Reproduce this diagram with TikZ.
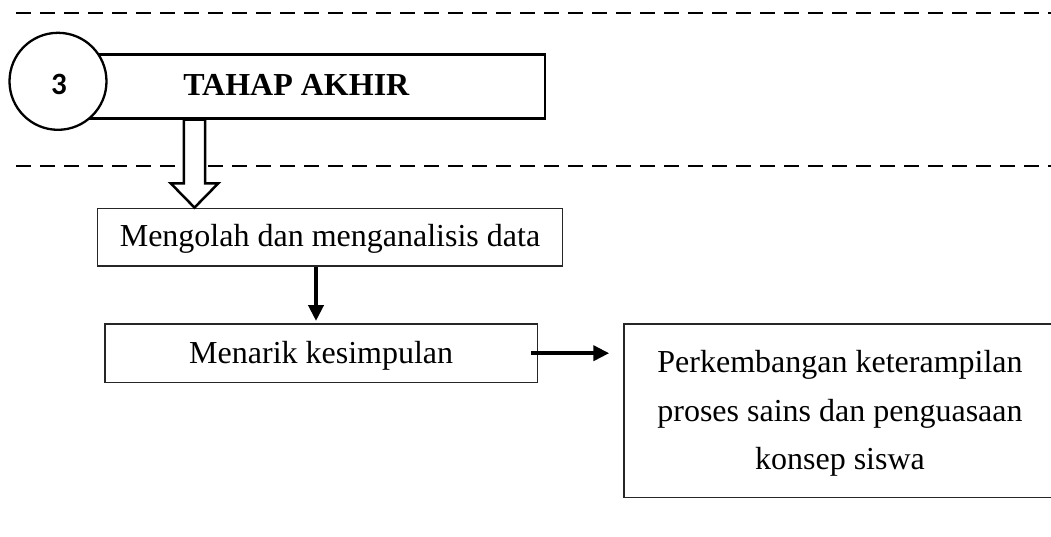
\documentclass[tikz,border=0pt]{standalone}
\usepackage{fontspec}
\setmainfont{Liberation Serif}
\newfontfamily\numfont{Carlito}
\usetikzlibrary{arrows.meta,calc}
\begin{document}
\begin{tikzpicture}[x=1pt,y=-1pt,
  thinbox/.style={draw=black!85,line width=1.5pt,rectangle,inner sep=0pt,font=\fontsize{32}{38}\selectfont},
  dashline/.style={line width=2pt,dash pattern=on 15pt off 9pt},
  arr/.style={line width=4pt,-{Triangle[length=16pt,width=15pt]}},
  hollow/.style={line width=2.5pt,fill=white,line join=miter}]
\useasboundingbox (0,0) rectangle (1051,536);
\clip (0,0) rectangle (1051,536);
% dashed separators
\coordinate (d1a) at (16,13.3);
\coordinate (d1b) at (1051,13.3);
\coordinate (d2a) at (16,165.7);
\coordinate (d2b) at (1051,165.7);
\draw[dashline] (d1a) -- (d1b);
\draw[dashline] (d2a) -- (d2b);
% header
\node[draw, line width=2.7pt, minimum width=497.4pt, minimum height=64pt, inner sep=0pt,
      text height=21.2pt, text depth=3.8pt,
      font=\fontsize{32}{38}\selectfont\bfseries] (tahap) at (296.3,86.3) {TAHAP AKHIR};
\node[draw, circle, fill=white, line width=2.3pt, minimum size=97pt, inner sep=0pt] (c3) at (58,81.3) {};
\node[inner sep=0pt, font=\numfont\fontsize{31}{34}\selectfont\bfseries] (n3) at (59,84) {3};
% boxes
\node[thinbox, minimum width=465.4pt, minimum height=57.7pt, text height=21.2pt, text depth=2.2pt]
      (olah) at (330,237.2) {Mengolah dan menganalisis data};
\node[thinbox, minimum width=432.3pt, minimum height=58.3pt, text height=21.2pt, text depth=1pt]
      (menarik) at (321.2,353.2) {Menarik kesimpulan};
\node[thinbox, minimum width=432pt, minimum height=173.3pt, align=center, text depth=1.5pt,
      font=\fontsize{32}{48.3}\selectfont] (hasil) at (840,410.7)
      {Perkembangan keterampilan\\proses sains dan penguasaan\\konsep siswa};
% hollow arrow
\coordinate (ax) at (194.5,0);
\coordinate (hs) at (tahap.south -| ax);
\coordinate (ht) at (olah.north -| ax);
\draw[hollow] ($(hs)+(-10.7,0)$) -- ($(ht)+(-10.7,-24.3)$) -- ($(ht)+(-23.8,-24.3)$) -- (ht)
   -- ($(ht)+(23.8,-24.3)$) -- ($(ht)+(10.7,-24.3)$) -- ($(hs)+(10.7,0)$) -- cycle;
% arrows
\coordinate (dx) at (316,0);
\draw[arr, shorten >=2.3pt] (olah.south -| dx) -- (menarik.north -| dx);
\draw[arr, shorten >=14pt] ($(menarik.east)+(-7,0)$) -- (hasil.west |- menarik.east);
\end{tikzpicture}
\end{document}
